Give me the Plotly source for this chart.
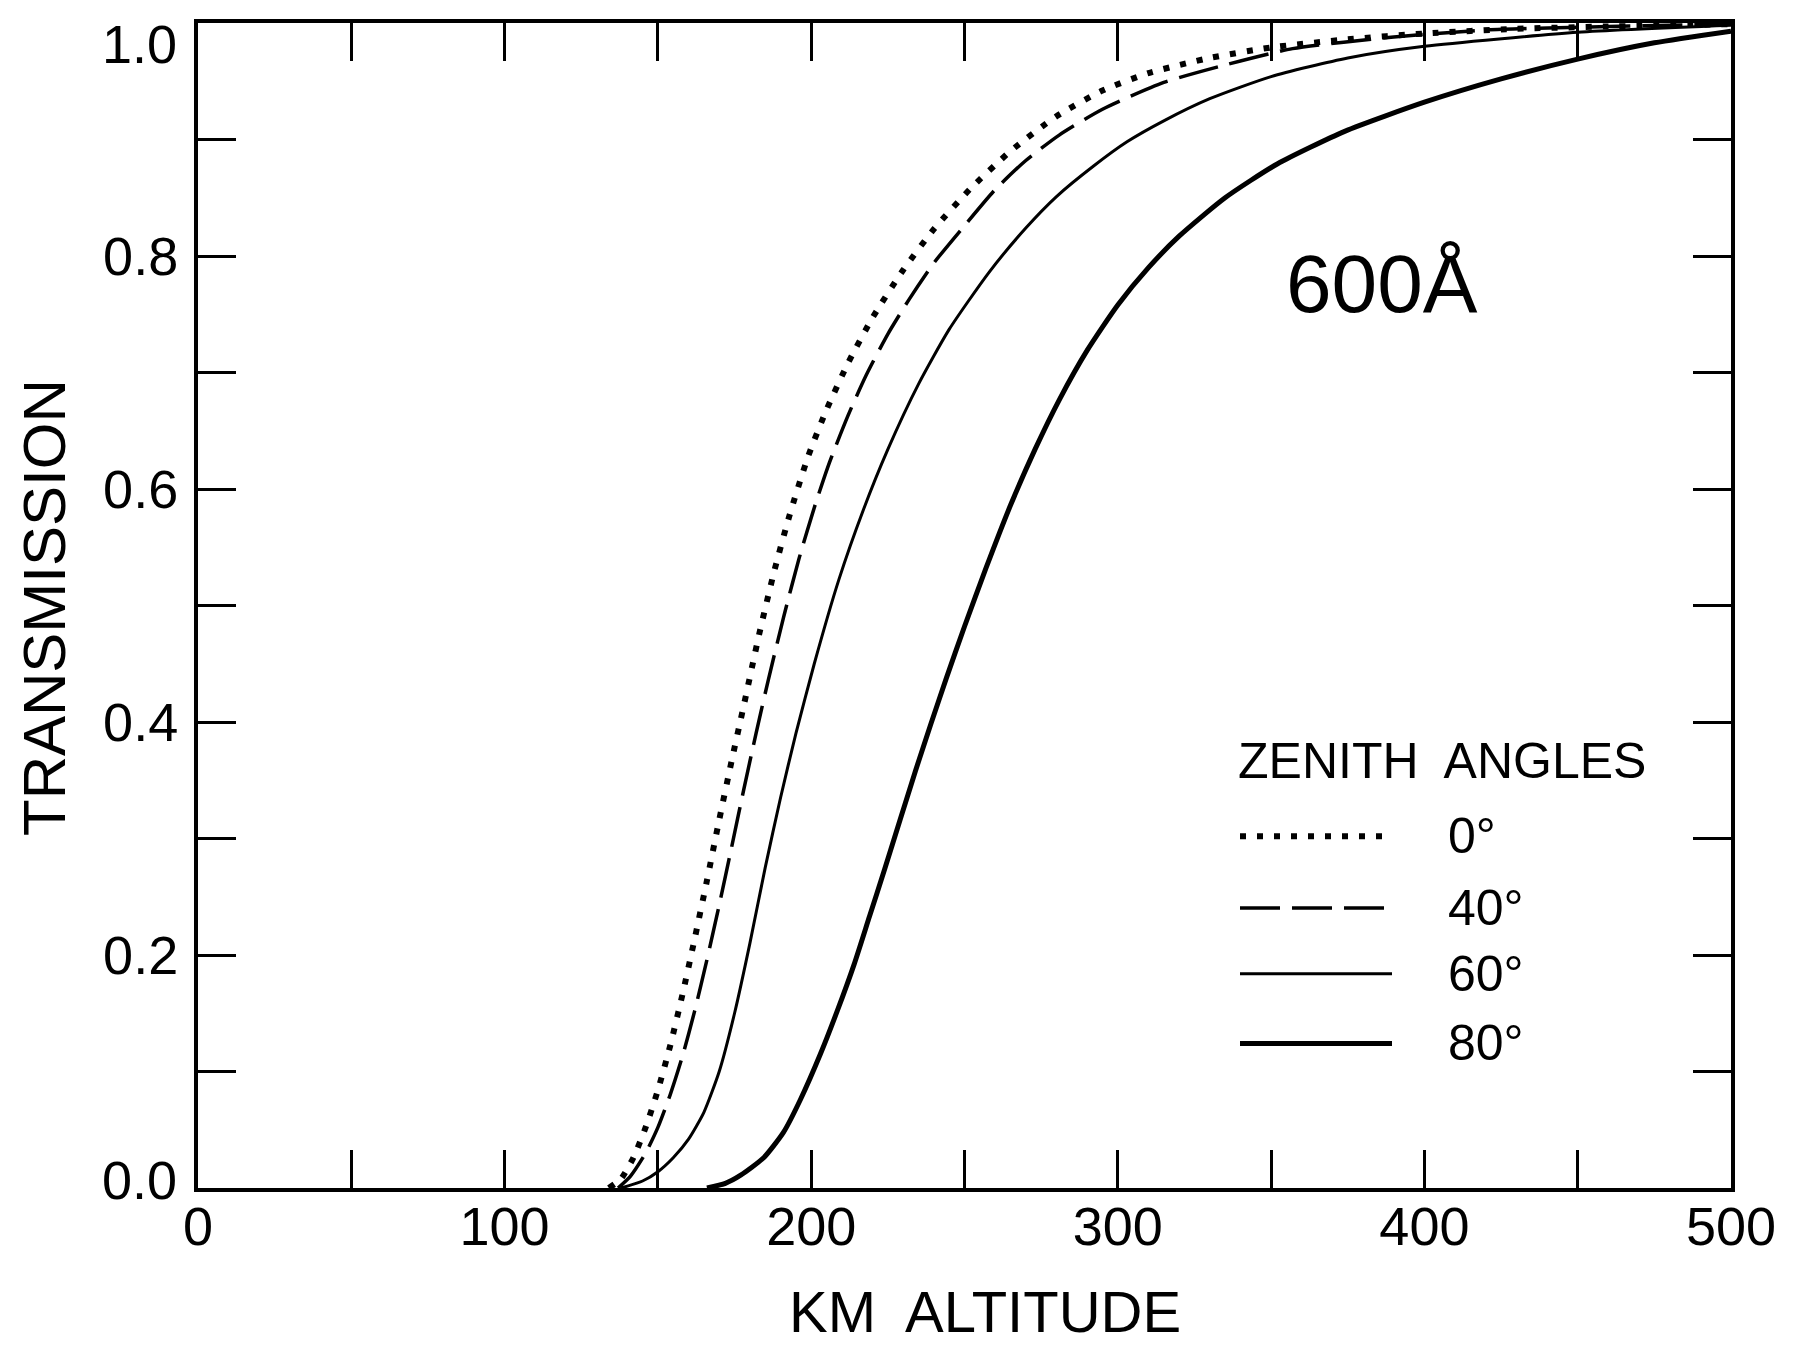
import plotly.graph_objects as go

# ---------------- data ----------------
alt_0 = [134, 138, 142, 146, 150, 154, 158, 162, 166, 170, 174, 178, 183, 188, 193, 199, 205, 212,
         220, 230, 240, 252, 265, 280, 295, 310, 330, 350, 375, 400, 430, 460, 500]
tr_0 = [0.0, 0.008, 0.026, 0.052, 0.084, 0.122, 0.166, 0.214, 0.264, 0.316, 0.366, 0.414, 0.475,
        0.53, 0.578, 0.628, 0.668, 0.708, 0.747, 0.788, 0.823, 0.858, 0.89, 0.92, 0.942, 0.957,
        0.97, 0.979, 0.986, 0.991, 0.995, 0.997, 0.999]

alt_40 = [137, 141, 146, 150, 154, 158, 162, 166, 170, 174, 178, 182, 186, 191, 196, 201, 206, 212,
          218, 225, 232, 240, 250, 260, 270, 281, 295, 315, 335, 357, 390, 420, 460, 500]
tr_40 = [0.0, 0.01, 0.03, 0.052, 0.08, 0.113, 0.152, 0.196, 0.243, 0.292, 0.342, 0.39, 0.436, 0.49,
         0.54, 0.584, 0.623, 0.663, 0.698, 0.733, 0.763, 0.794, 0.826, 0.857, 0.882, 0.904, 0.926,
         0.949, 0.964, 0.978, 0.988, 0.994, 0.997, 0.999]

alt_60 = [138, 145, 150, 155, 160, 165, 170, 175, 180, 185, 190, 195, 201, 209, 217, 225, 235, 245,
          258, 270, 280, 292, 303, 315, 330, 350, 375, 400, 450, 500]
tr_60 = [0.0, 0.006, 0.014, 0.026, 0.042, 0.065, 0.1, 0.15, 0.21, 0.275, 0.335, 0.39, 0.45, 0.522,
         0.582, 0.634, 0.69, 0.737, 0.786, 0.824, 0.851, 0.877, 0.898, 0.916, 0.935, 0.954, 0.97,
         0.98, 0.992, 0.998]

alt_80 = [166, 172, 177, 184.5, 191, 196.5, 203, 208.5, 214, 219, 224, 229, 234, 239, 244, 250, 257,
          265, 273, 281, 290, 300, 310, 320, 335, 352, 374, 400, 425, 450, 475, 500]
tr_80 = [0.0, 0.004, 0.011, 0.026, 0.048, 0.076, 0.115, 0.152, 0.192, 0.233, 0.274, 0.316, 0.358,
         0.398, 0.437, 0.482, 0.532, 0.586, 0.634, 0.677, 0.719, 0.758, 0.79, 0.817, 0.85, 0.879,
         0.907, 0.932, 0.952, 0.969, 0.983, 0.993]

angle_labels = ["0°", "40°", "60°", "80°"]
x_tick_vals = [0, 50, 100, 150, 200, 250, 300, 350, 400, 450, 500]
x_tick_text = ["0", "", "100", "", "200", "", "300", "", "400", "", "500"]
y_tick_vals = [0.0, 0.1, 0.2, 0.3, 0.4, 0.5, 0.6, 0.7, 0.8, 0.9, 1.0]
y_tick_text = ["", "", "0.2", "", "0.4", "", "0.6", "", "0.8", "", ""]

# ---------------- styling ----------------
FONT = "Liberation Sans"
BLACK = "#000000"
styles = [
    dict(width=6, dash="6px,11px"),
    dict(width=3.5, dash="40px,12px"),
    dict(width=3, dash="solid"),
    dict(width=5, dash="solid"),
]
series = [(alt_0, tr_0), (alt_40, tr_40), (alt_60, tr_60), (alt_80, tr_80)]

# page geometry (the html body has an 8px margin)
OFF = 8
PAGE_W, PAGE_H = 1806, 1349
PL, PR, PT, PB = 198, 1731, 19, 1188          # plot area in page pixels
W, H = PAGE_W - OFF, PAGE_H - OFF
ML, MT = PL - OFF, PT - OFF
MR, MB = W + OFF - PR, H + OFF - PB
PW, PH = PR - PL, PB - PT


def px_x(px):
    return (px - PL) / PW


def px_y(py):
    return (PB - py) / PH


fig = go.Figure()
for (xs, ys), st, lab in zip(series, styles, angle_labels):
    fig.add_trace(go.Scatter(x=xs, y=ys, mode="lines", name=lab,
                             line=dict(color=BLACK, width=st["width"], dash=st["dash"],
                                       shape="spline", smoothing=0.6),
                             showlegend=False, hoverinfo="skip"))

annotations = [
    dict(text="TRANSMISSION", x=px_x(45), y=px_y(606), textangle=-90,
         font=dict(size=60)),
    dict(text="KM  ALTITUDE", x=px_x(985), y=px_y(1347), yanchor="bottom", font=dict(size=58)),
    dict(text="600Å", x=px_x(1382), y=px_y(280), font=dict(size=82)),
    dict(text="1.0", x=px_x(179), y=px_y(40), xanchor="right", font=dict(size=54)),
    dict(text="0.0", x=px_x(179), y=px_y(1180), xanchor="right", font=dict(size=54)),
    dict(text="ZENITH  ANGLES", x=px_x(1236), y=px_y(760), xanchor="left", font=dict(size=50)),
]
shapes = []
row_y = [835, 907, 973, 1043]
for st, lab, ry in zip(styles, angle_labels, row_y):
    shapes.append(dict(type="line", xref="paper", yref="paper",
                       x0=px_x(1240), x1=px_x(1392), y0=px_y(ry), y1=px_y(ry),
                       line=dict(color=BLACK, width=st["width"], dash=st["dash"])))
    annotations.append(dict(text=lab, x=px_x(1446), y=px_y(ry), xanchor="left",
                            font=dict(size=50)))
for a in annotations:
    a.update(xref="paper", yref="paper", showarrow=False)
    a.setdefault("yanchor", "middle")
    a.setdefault("xanchor", "center")
    a["font"].update(family=FONT, color=BLACK)

axis_common = dict(showgrid=False, zeroline=False, ticks="inside", ticklen=38, tickwidth=3,
                   tickcolor=BLACK, showline=True, linecolor=BLACK, linewidth=4, mirror="ticks",
                   tickfont=dict(family=FONT, size=54, color=BLACK))

fig.update_layout(
    width=W, height=H,
    margin=dict(l=ML, r=MR, t=MT, b=MB, pad=0),
    paper_bgcolor="white", plot_bgcolor="white",
    xaxis=dict(range=[0, 500], tickmode="array", tickvals=x_tick_vals, ticktext=x_tick_text,
               ticklabelstandoff=-12, **axis_common),
    yaxis=dict(range=[0, 1.0], tickmode="array", tickvals=y_tick_vals, ticktext=y_tick_text,
               ticklabelstandoff=5, **axis_common),
    annotations=annotations,
    shapes=shapes,
    showlegend=False,
)

fig.write_html("out.html")
